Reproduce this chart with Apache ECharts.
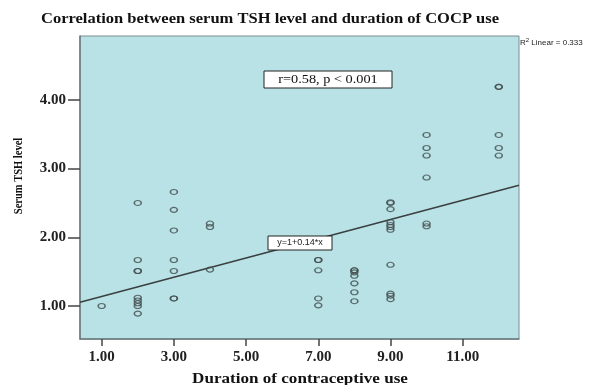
<!DOCTYPE html>
<html>
<head>
<meta charset="utf-8">
<script src="https://cdn.jsdelivr.net/npm/echarts@6/dist/echarts.min.js"></script>
<style>
  html, body { margin: 0; padding: 0; background: #fff; }
  #chart { width: 604px; height: 385px; }
</style>
</head>
<body>
<div id="chart"></div>
<script>
// duration of COCP use (years) and serum TSH level
const durationYears = [
  1,
  2, 2, 2, 2, 2, 2, 2, 2, 2,
  3, 3, 3, 3, 3, 3, 3,
  4, 4, 4,
  7, 7, 7, 7, 7,
  8, 8, 8, 8, 8, 8, 8,
  9, 9, 9, 9, 9, 9, 9, 9, 9, 9, 9,
  10, 10, 10, 10, 10, 10,
  12, 12, 12, 12, 12
];
const tshLevel = [
  1.00,
  2.50, 1.67, 1.51, 1.51, 1.12, 1.08, 1.04, 1.00, 0.89,
  2.66, 2.40, 2.10, 1.67, 1.51, 1.11, 1.11,
  2.20, 2.15, 1.53,
  1.67, 1.67, 1.52, 1.11, 1.01,
  1.52, 1.52, 1.49, 1.44, 1.33, 1.20, 1.07,
  2.51, 2.50, 2.41, 2.22, 2.18, 2.15, 2.11, 1.60, 1.18, 1.15, 1.10,
  3.49, 3.30, 3.19, 2.87, 2.20, 2.16,
  4.19, 4.19, 3.49, 3.30, 3.19
];

// fit line y = 1 + 0.14*x, end points at the plot edges
const fitX = [0.4, 12.56];
const fitY = [1.056, 2.758];

const xTicks = [1, 3, 5, 7, 9, 11];
const yTicks = [1, 2, 3, 4];

const points = durationYears.map((d, i) => [d, tshLevel[i]]);
const fitPoints = fitX.map((d, i) => [d, fitY[i]]);

const serif = '"Liberation Serif", "DejaVu Serif", serif';
const sans = '"Liberation Sans", Arial, sans-serif';

const chart = echarts.init(document.getElementById('chart'));

const option = {
  animation: false,
  grid: {
    left: 80,
    top: 36,
    right: 85,
    bottom: 46,
    outerBoundsMode: 'none',
    show: true,
    backgroundColor: '#b8e2e6',
    borderColor: '#7d8e90',
    borderWidth: 1
  },
  xAxis: {
    type: 'value',
    min: 0.4,
    max: 12.56,
    axisLine: { show: true, lineStyle: { color: '#6b7a7c', width: 1.5 } },
    axisTick: {
      show: true,
      length: 7,
      customValues: xTicks,
      lineStyle: { color: '#444', width: 1.5 }
    },
    axisLabel: {
      customValues: xTicks,
      margin: 11,
      fontFamily: serif,
      fontWeight: 'bold',
      fontSize: 15,
      color: '#222',
      formatter: v => Number(v).toFixed(2)
    },
    splitLine: { show: false }
  },
  yAxis: {
    type: 'value',
    min: 0.52,
    max: 4.93,
    axisLine: { show: true, lineStyle: { color: '#6b7a7c', width: 1.5 } },
    axisTick: {
      show: true,
      length: 12,
      customValues: yTicks,
      lineStyle: { color: '#444', width: 1.5 }
    },
    axisLabel: {
      customValues: yTicks,
      margin: 14,
      fontFamily: serif,
      fontWeight: 'bold',
      fontSize: 15,
      color: '#222',
      formatter: v => Number(v).toFixed(2)
    },
    splitLine: { show: false }
  },
  graphic: [
    {
      // chart title (source picture is stretched horizontally)
      type: 'text',
      x: 270,
      y: 19,
      scaleX: 1.18,
      style: {
        text: 'Correlation between serum TSH level and duration of COCP use',
        font: 'bold 14px ' + serif,
        fill: '#111',
        align: 'center',
        verticalAlign: 'middle'
      }
    },
    {
      type: 'text',
      x: 300,
      y: 379,
      scaleX: 1.22,
      style: {
        text: 'Duration of contraceptive use',
        font: 'bold 14px ' + serif,
        fill: '#111',
        align: 'center',
        verticalAlign: 'middle'
      }
    },
    {
      type: 'text',
      x: 19,
      y: 176,
      rotation: Math.PI / 2,
      scaleY: 1.2,
      style: {
        text: 'Serum TSH level',
        font: 'bold 10.5px ' + serif,
        fill: '#111',
        align: 'center',
        verticalAlign: 'middle'
      }
    },
    {
      type: 'rect',
      shape: { x: 264, y: 71, width: 128, height: 17 },
      style: { fill: '#fff', stroke: '#222', lineWidth: 1 },
      z: 10
    },
    {
      type: 'text',
      x: 328,
      y: 79.5,
      scaleX: 1.1,
      style: {
        text: 'r=0.58, p < 0.001',
        font: '13px ' + serif,
        fill: '#111',
        align: 'center',
        verticalAlign: 'middle'
      },
      z: 11
    },
    {
      type: 'rect',
      shape: { x: 268, y: 236, width: 64, height: 14 },
      style: { fill: '#fff', stroke: '#222', lineWidth: 1 },
      z: 10
    },
    {
      type: 'text',
      x: 300,
      y: 243,
      style: {
        text: 'y=1+0.14*x',
        font: '9px ' + sans,
        fill: '#222',
        align: 'center',
        verticalAlign: 'middle'
      },
      z: 11
    },
    {
      type: 'text',
      x: 520,
      y: 43,
      style: {
        text: '{a|R}{s|2}{a| Linear = 0.333}',
        rich: {
          a: { font: '8px ' + sans, fill: '#222' },
          s: { font: '6px ' + sans, fill: '#222', verticalAlign: 'top', padding: [0, 0, 5, 0] }
        },
        verticalAlign: 'middle'
      }
    }
  ],
  series: [
    {
      name: 'fit',
      type: 'line',
      data: fitPoints,
      symbol: 'none',
      silent: true,
      lineStyle: { color: '#3a3f40', width: 1.5 },
      z: 3
    },
    {
      name: 'TSH',
      type: 'scatter',
      data: points,
      symbol: 'circle',
      symbolSize: [7, 5],
      itemStyle: {
        color: 'rgba(0,0,0,0)',
        borderColor: '#434d4e',
        borderWidth: 1.3
      },
      z: 4
    }
  ]
};

chart.setOption(option);
</script>
</body>
</html>
